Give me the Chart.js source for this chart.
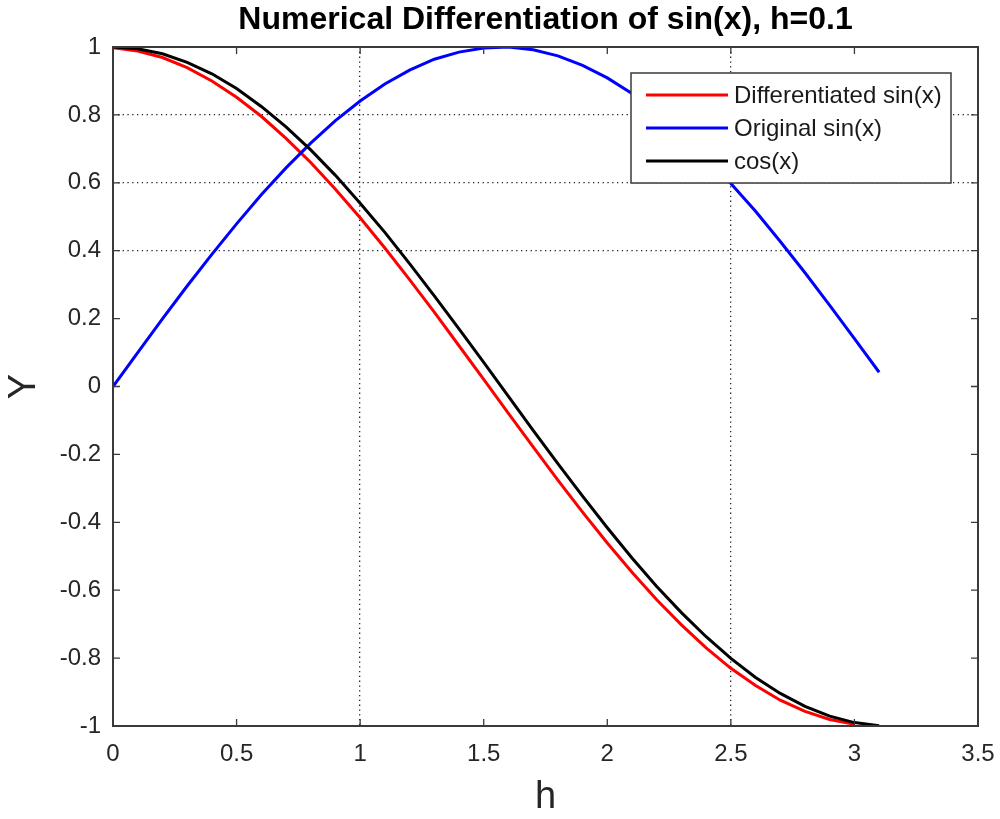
<!DOCTYPE html>
<html>
<head>
<meta charset="utf-8">
<title>Numerical Differentiation of sin(x)</title>
<script src="https://cdn.jsdelivr.net/npm/chart.js@4"></script>
<style>
  html, body { margin: 0; padding: 0; background: #fff; }
  canvas { display: block; }
</style>
</head>
<body>
<canvas id="chart" width="1000" height="819"></canvas>
<script>
// ---------------- Daten ----------------
const xValues = [0, 0.1, 0.2, 0.3, 0.4, 0.5, 0.6, 0.7, 0.8, 0.9, 1.0, 1.1, 1.2, 1.3, 1.4, 1.5,
                 1.6, 1.7, 1.8, 1.9, 2.0, 2.1, 2.2, 2.3, 2.4, 2.5, 2.6, 2.7, 2.8, 2.9, 3.0, 3.1];

// Differenzenquotient – ein Punkt weniger (endet bei x = 3.0)
const diffSin = [0.998, 0.988, 0.969, 0.939, 0.900, 0.852, 0.796, 0.731, 0.660, 0.581,
                 0.497, 0.408, 0.315, 0.219, 0.120, 0.021, -0.079, -0.178, -0.276, -0.370,
                 -0.461, -0.547, -0.628, -0.702, -0.770, -0.830, -0.881, -0.924, -0.957, -0.981, -0.995];

const origSin = [0, 0.100, 0.199, 0.296, 0.389, 0.479, 0.565, 0.644, 0.717, 0.783,
                 0.841, 0.891, 0.932, 0.964, 0.985, 0.997, 1.000, 0.992, 0.974, 0.946,
                 0.909, 0.863, 0.808, 0.746, 0.675, 0.598, 0.516, 0.427, 0.335, 0.239, 0.141, 0.042];

const cosX = [1, 0.995, 0.980, 0.955, 0.921, 0.878, 0.825, 0.765, 0.697, 0.622,
              0.540, 0.454, 0.362, 0.267, 0.170, 0.071, -0.029, -0.129, -0.227, -0.323,
              -0.416, -0.505, -0.589, -0.666, -0.737, -0.801, -0.857, -0.904, -0.942, -0.971, -0.990, -0.999];

const seriesNames = ['Differentiated sin(x)', 'Original sin(x)', 'cos(x)'];
const seriesColors = ['#ff0000', '#0000ff', '#000000'];

// Gitterlinien sind im Original nur an diesen Stellen sichtbar
const xGridAt = [1, 2.5];
const yGridAt = [0.4, 0.6, 0.8];

const FONT = '"Liberation Sans", Arial, sans-serif';
const AXIS_COLOR = '#262626';

const toPoints = (ys) => ys.map((y, i) => ({ x: xValues[i], y: y }));
const hasValue = (list, v) => list.some(t => Math.abs(t - v) < 1e-6);

// ---------------- Plugins ----------------
// Rahmen + Ticks nach innen (MATLAB-Stil), Titel, Legende
const matlabFrame = {
  id: 'matlabFrame',
  afterDraw(chart) {
    const { ctx, chartArea: a, scales } = chart;
    const len = 7;
    ctx.save();
    ctx.strokeStyle = '#3a3a3a';
    ctx.lineWidth = 2;
    ctx.strokeRect(a.left, a.top, a.right - a.left, a.bottom - a.top);

    ctx.lineWidth = 1.3;
    ctx.beginPath();
    scales.x.ticks.forEach(t => {
      const px = scales.x.getPixelForValue(t.value);
      ctx.moveTo(px, a.bottom); ctx.lineTo(px, a.bottom - len);
      ctx.moveTo(px, a.top); ctx.lineTo(px, a.top + len);
    });
    scales.y.ticks.forEach(t => {
      const py = scales.y.getPixelForValue(t.value);
      ctx.moveTo(a.left, py); ctx.lineTo(a.left + len, py);
      ctx.moveTo(a.right, py); ctx.lineTo(a.right - len, py);
    });
    ctx.stroke();

    // Titel
    ctx.fillStyle = '#000';
    ctx.font = 'bold 32px ' + FONT;
    ctx.textAlign = 'center';
    ctx.textBaseline = 'middle';
    ctx.fillText('Numerical Differentiation of sin(x), h=0.1', (a.left + a.right) / 2, 20);

    // Legende
    const box = { x: 631, y: 73, w: 320, h: 110 };
    ctx.fillStyle = '#fff';
    ctx.fillRect(box.x, box.y, box.w, box.h);
    ctx.strokeStyle = '#3a3a3a';
    ctx.lineWidth = 1.5;
    ctx.strokeRect(box.x, box.y, box.w, box.h);
    ctx.font = '24px ' + FONT;
    ctx.textAlign = 'left';
    const rows = [95, 128, 161];
    seriesNames.forEach((name, i) => {
      ctx.strokeStyle = seriesColors[i];
      ctx.lineWidth = 3;
      ctx.beginPath();
      ctx.moveTo(646, rows[i]); ctx.lineTo(728, rows[i]);
      ctx.stroke();
      ctx.fillStyle = '#1a1a1a';
      ctx.fillText(name, 734, rows[i] + 1);
    });
    ctx.restore();
  }
};

// ---------------- Liniendiagramm ----------------
const chart = new Chart(document.getElementById('chart'), {
  type: 'line',
  data: {
    datasets: [
      { label: seriesNames[0], data: toPoints(diffSin), borderColor: seriesColors[0], order: 3 },
      { label: seriesNames[1], data: toPoints(origSin), borderColor: seriesColors[1], order: 2 },
      { label: seriesNames[2], data: toPoints(cosX), borderColor: seriesColors[2], order: 1 }
    ]
  },
  options: {
    responsive: false,
    animation: false,
    devicePixelRatio: 1,
    layout: { padding: { top: 47, right: 22, left: 0, bottom: 0 } },
    elements: {
      line: { borderWidth: 3, tension: 0, fill: false },
      point: { radius: 0, hoverRadius: 0 }
    },
    plugins: {
      legend: { display: false },
      title: { display: false },
      tooltip: { enabled: false }
    },
    scales: {
      x: {
        type: 'linear',
        min: 0, max: 3.5,
        ticks: {
          stepSize: 0.5,
          color: AXIS_COLOR,
          font: { family: FONT, size: 24 },
          padding: 14,
          maxRotation: 0,
          callback: v => String(+v.toFixed(1))
        },
        grid: {
          drawTicks: false,
          color: c => (c.tick && hasValue(xGridAt, c.tick.value)) ? '#222' : 'rgba(0,0,0,0)',
          lineWidth: 1.3
        },
        border: { display: false, dash: [1.3, 3.5] },
        title: {
          display: true, text: 'h', color: AXIS_COLOR,
          font: { family: FONT, size: 38, lineHeight: 1 },
          padding: { top: 0, bottom: 2 }
        },
        afterFit: s => { s.height = 93; s.paddingLeft = 0; s.paddingRight = 0; }
      },
      y: {
        type: 'linear',
        min: -1, max: 1,
        ticks: {
          stepSize: 0.2,
          color: AXIS_COLOR,
          font: { family: FONT, size: 24 },
          padding: 12,
          callback: v => String(+v.toFixed(1))
        },
        grid: {
          drawTicks: false,
          color: c => (c.tick && hasValue(yGridAt, c.tick.value)) ? '#222' : 'rgba(0,0,0,0)',
          lineWidth: 1.3
        },
        border: { display: false, dash: [1.3, 3.5] },
        title: {
          display: true, text: 'Y', color: AXIS_COLOR,
          font: { family: FONT, size: 38, lineHeight: 1 },
          padding: { top: 6, bottom: 0 }
        },
        afterFit: s => { s.width = 113; s.paddingTop = 0; s.paddingBottom = 0; }
      }
    }
  },
  plugins: [matlabFrame]
});
</script>
</body>
</html>
